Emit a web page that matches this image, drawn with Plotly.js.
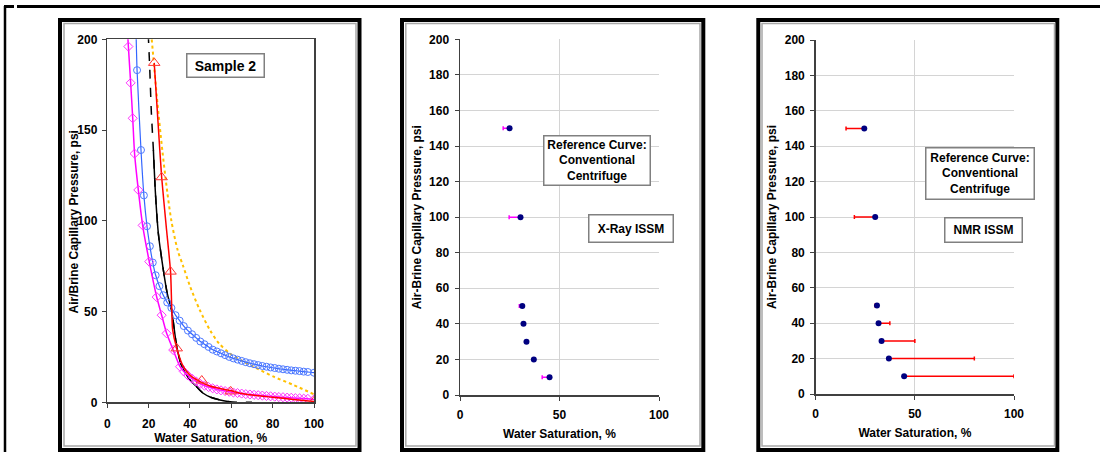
<!DOCTYPE html>
<html><head><meta charset="utf-8">
<script src="https://cdn.plot.ly/plotly-3.0.1.min.js"></script>
<style>html,body{margin:0;padding:0;background:#fff}#chart{width:1100px;height:452px}</style>
</head><body><div id="chart"></div>
<script>
// ---------- Panel 1: Sample 2 capillary pressure curves ----------
const yellowSw = [21.5, 24, 26.6, 29, 31, 34, 36.8, 40, 44.8, 49.7, 54, 59.4, 65, 70.8, 80.5, 90.2, 99.8];
const yellowPc = [200, 168, 139, 116, 100, 84, 74.7, 64, 50.7, 39.7, 32.5, 26.8, 23, 19.6, 14.1, 9.5, 4.5];

const blackSw = [19.8, 20.5, 21.3, 22.3, 23.3, 24.7, 27.1, 29, 31.1, 33.6, 36, 40, 43.2, 46.4, 50, 54.5, 59.4, 65, 70];
const blackPc = [203, 185, 160, 139, 115, 93, 73, 60, 50.8, 30.6, 20, 12.3, 8.6, 5, 2.8, 1.3, 0.3, 0, 0];

const blueSw = [13.9, 14.4, 16.3, 17.7, 19.2, 20.6, 22, 23.4, 25.2, 27.1, 29, 31, 33, 35, 37, 39, 41, 43, 45, 47, 49, 51, 53, 55, 57, 59, 61, 63, 65, 67, 69, 71, 73, 75, 77, 79, 81, 83, 85, 87, 89, 91, 93, 95, 97, 100];
const bluePc = [204, 183, 139, 114, 97, 86, 77, 70, 64, 59, 55, 52, 48, 45, 42, 39.5, 37.5, 35.5, 33.5, 32, 30.5, 29, 28, 27, 26, 25, 24.2, 23.5, 22.8, 22.1, 21.5, 21, 20.5, 20, 19.6, 19.2, 18.9, 18.5, 18.2, 17.9, 17.6, 17.4, 17.2, 16.9, 16.7, 16.3];

const magentaSw = [9.8, 10.2, 11.3, 12.3, 13.2, 15, 17.1, 20.3, 23.9, 26.3, 28.7, 31.9, 35.2, 37, 39, 41, 43, 45, 47, 49, 51, 53, 55, 57, 59, 61, 63, 65, 67, 69, 71, 73, 75, 77, 79, 81, 83, 85, 87, 89, 91, 93, 95, 97, 100];
const magentaPc = [204, 196, 176, 156.5, 137, 117, 97.5, 77.5, 58, 48, 38, 28.8, 19.6, 17, 14.8, 13, 11.5, 10.2, 9.2, 8.4, 7.7, 7.1, 6.6, 6.2, 5.8, 5.4, 5.1, 4.8, 4.5, 4.3, 4.1, 3.9, 3.7, 3.5, 3.3, 3.1, 2.9, 2.8, 2.6, 2.5, 2.3, 2.2, 2.0, 1.9, 1.6];

const redLineSw = [22.7, 24.5, 26.3, 28.5, 30.6, 31.1, 31.6, 33.6, 36.8, 40, 44.8, 50, 55, 59.7, 64.2, 70, 80, 90, 100];
const redLinePc = [187, 155, 124, 97, 72, 55, 40, 29.7, 19.6, 15, 11.4, 8.8, 7.5, 6.5, 5, 4, 2.8, 1.6, 0.5];
const redPointSw = [22.7, 26.3, 30.6, 33.6, 45.7, 59.7, 100];
const redPointPc = [187, 124, 72, 29.7, 12, 6, 0.5];

// ---------- Panels 2 and 3: ISSM points with deviations ----------
const issmPc = [150, 100, 50, 40, 30, 20, 10];
const xraySw = [24.9, 30.4, 31.3, 31.9, 33.4, 37.1, 45.0];
const xrayMinus = [3.2, 5.7, 1.5, 0, 0, 0, 3.7];
const xrayPlus = [0, 0, 0, 0, 0, 0, 0];
const nmrSw = [24.5, 30.0, 30.9, 31.7, 33.2, 36.9, 44.6];
const nmrMinus = [9.2, 10.5, 1.0, 0, 0, 0, 0];
const nmrPlus = [0, 0, 0, 5.7, 16.8, 43.1, 55.4];

const xTicks1 = [0, 20, 40, 60, 80, 100];
const yTicks1 = [0, 50, 100, 150, 200];
const xTicks2 = [0, 50, 100];
const yTicks2 = [0, 20, 40, 60, 80, 100, 120, 140, 160, 180, 200];

// ---------- helpers ----------
const W = 1100, H = 452;
const px = v => v / W;
const py = v => 1 - v / H;
const FONT = 'Liberation Sans, Arial, sans-serif';
const bold = (s) => ({family: FONT, size: s, color: '#000', weight: 'bold'});

const blackSolidSw = [], blackSolidPc = [];
blackSw.forEach((s, i) => { if (blackPc[i] <= 139 && s <= 60) { blackSolidSw.push(s); blackSolidPc.push(blackPc[i]); } });

const traces = [
  {x: yellowSw, y: yellowPc, xaxis: 'x', yaxis: 'y', mode: 'lines', line: {color: '#ffc000', dash: 'dot', width: 2, shape: 'spline', smoothing: 0.8}},
  {x: blackSw, y: blackPc, xaxis: 'x', yaxis: 'y', mode: 'lines', line: {color: '#000', dash: 'dash', width: 1.5, shape: 'spline', smoothing: 0.6}},
  {x: blackSolidSw, y: blackSolidPc, xaxis: 'x', yaxis: 'y', mode: 'lines', line: {color: '#000', width: 1.5, shape: 'spline', smoothing: 0.6}},
  {x: blueSw, y: bluePc, xaxis: 'x', yaxis: 'y', mode: 'lines+markers', line: {color: '#3366ff', width: 1.2, shape: 'spline', smoothing: 0.6},
   marker: {symbol: 'circle-open', size: 7, color: '#4d79ff', line: {width: 1}}},
  {x: magentaSw, y: magentaPc, xaxis: 'x', yaxis: 'y', mode: 'lines+markers', line: {color: '#ff00ff', width: 1.5, shape: 'spline', smoothing: 0.6},
   marker: {symbol: 'diamond-open', size: 7, color: '#ff33ff', line: {width: 1}}},
  {x: redLineSw, y: redLinePc, xaxis: 'x', yaxis: 'y', mode: 'lines', line: {color: '#ff0000', width: 1.5, shape: 'spline', smoothing: 0.6}},
  {x: redPointSw, y: redPointPc, xaxis: 'x', yaxis: 'y', mode: 'markers', marker: {symbol: 'triangle-up-open', size: 10, color: '#ff3333', line: {width: 1}}},

  {x: xraySw, y: issmPc, xaxis: 'x2', yaxis: 'y2', mode: 'markers', marker: {color: '#000080', size: 6},
   error_x: {type: 'data', symmetric: false, array: xrayPlus, arrayminus: xrayMinus, color: '#ff00ff', thickness: 1.5, width: 2}},
  {x: nmrSw, y: issmPc, xaxis: 'x3', yaxis: 'y3', mode: 'markers', marker: {color: '#000080', size: 6},
   error_x: {type: 'data', symmetric: false, array: nmrPlus, arrayminus: nmrMinus, color: '#ff0000', thickness: 1.5, width: 2}}
];

const baseAxis = {
  tickfont: bold(12), ticks: 'outside', ticklen: 4, tickcolor: '#404040', tickwidth: 1,
  showline: true, linecolor: '#404040', linewidth: 1.5, zeroline: false, fixedrange: true
};

function xAx(domain, anchor, tickvals, grid, mirror, standoffLbl, titleStandoff) {
  return Object.assign({}, baseAxis, {
    domain: domain, anchor: anchor, range: [0, 100], tickmode: 'array', tickvals: tickvals,
    showgrid: grid, gridcolor: '#d4d4d4', gridwidth: 1, mirror: mirror,
    ticklabelstandoff: standoffLbl,
    title: {text: 'Water Saturation, %', font: bold(12), standoff: titleStandoff}
  });
}
function yAx(domain, anchor, tickvals, grid, mirror, title, standoffLbl, titleStandoff) {
  return Object.assign({}, baseAxis, {
    domain: domain, anchor: anchor, range: [0, 200], tickmode: 'array', tickvals: tickvals,
    showgrid: grid, gridcolor: '#d4d4d4', gridwidth: 1, mirror: mirror,
    ticklabelstandoff: standoffLbl,
    title: {text: title, font: bold(12), standoff: titleStandoff}
  });
}

const shapes = [];
function rect(x0, y0, x1, y1, color, w) {
  shapes.push({type: 'rect', xref: 'paper', yref: 'paper', x0: px(x0), x1: px(x1), y0: py(y1), y1: py(y0),
    line: {color: color, width: w}, fillcolor: 'rgba(0,0,0,0)', layer: 'above'});
}
function line(x0, y0, x1, y1, color, w) {
  shapes.push({type: 'line', xref: 'paper', yref: 'paper', x0: px(x0), x1: px(x1), y0: py(y0), y1: py(y1),
    line: {color: color, width: w}, layer: 'above'});
}
// outer page frame
line(17, 6.5, 1100, 6.5, '#000', 3);
line(4, 6.5, 14, 6.5, '#000', 3);
line(5, 6, 5, 452, '#000', 2.5);
// panel frames
rect(60, 20, 359.5, 450, '#000', 4);
rect(64, 23.5, 356, 446, '#a8a8a8', 1.5);
rect(402, 20, 703.3, 450, '#000', 4);
rect(405.8, 23.5, 700, 446, '#a8a8a8', 1.5);
rect(758.3, 20, 1057.3, 450, '#000', 4);
rect(762, 23.5, 1054.5, 446, '#a8a8a8', 1.5);

function box(cx, cy, w, h, text, size) {
  return {xref: 'paper', yref: 'paper', x: px(cx), y: py(cy), xanchor: 'center', yanchor: 'middle',
    text: text, showarrow: false, font: bold(size), align: 'center',
    width: w - 4, height: h - 4, bordercolor: '#808080', borderwidth: 1.5, borderpad: 1, bgcolor: '#fff'};
}
const annotations = [
  box(225, 65, 78, 24, 'Sample 2', 14),
  box(596.5, 161, 107, 50, 'Reference Curve:<br>Conventional<br>Centrifuge', 12),
  box(630.5, 228, 85, 28, 'X-Ray ISSM', 12),
  box(979.5, 173, 109, 52, 'Reference Curve:<br>Conventional<br>Centrifuge', 12),
  box(983, 229.5, 78, 25, 'NMR ISSM', 12),
  // y-axis title of the first panel (sits over its tick labels as in the original)
  {xref: 'paper', yref: 'paper', x: px(73.5), y: py(222), xanchor: 'center', yanchor: 'middle',
   text: 'Air/Brine Capillary Pressure, psi', textangle: -90, showarrow: false, font: bold(12)}
];

const layout = {
  width: W, height: H, margin: {l: 0, r: 0, t: 0, b: 0}, autosize: false,
  paper_bgcolor: '#fff', plot_bgcolor: '#fff', showlegend: false,
  font: {family: FONT, size: 12, color: '#000'},
  xaxis: xAx([px(107.3), px(314)], 'y', xTicks1, false, true, 6, 2),
  yaxis: Object.assign(yAx([py(402.3), py(39.3)], 'x', yTicks1, false, true, '', 2, 0)),
  xaxis2: xAx([px(460), px(659)], 'y2', xTicks2, true, false, 4, 8),
  yaxis2: yAx([py(395), py(39.3)], 'x2', yTicks2, true, false, 'Air-Brine Capillary Pressure, psi', 3, 5),
  xaxis3: xAx([px(815.7), px(1014)], 'y3', xTicks2, true, false, 4, 8),
  yaxis3: yAx([py(394), py(40)], 'x3', yTicks2, true, false, 'Air-Brine Capillary Pressure, psi', 3, 5),
  shapes: shapes,
  annotations: annotations
};

Plotly.newPlot('chart', traces, layout, {staticPlot: true, displayModeBar: false});
</script></body></html>
